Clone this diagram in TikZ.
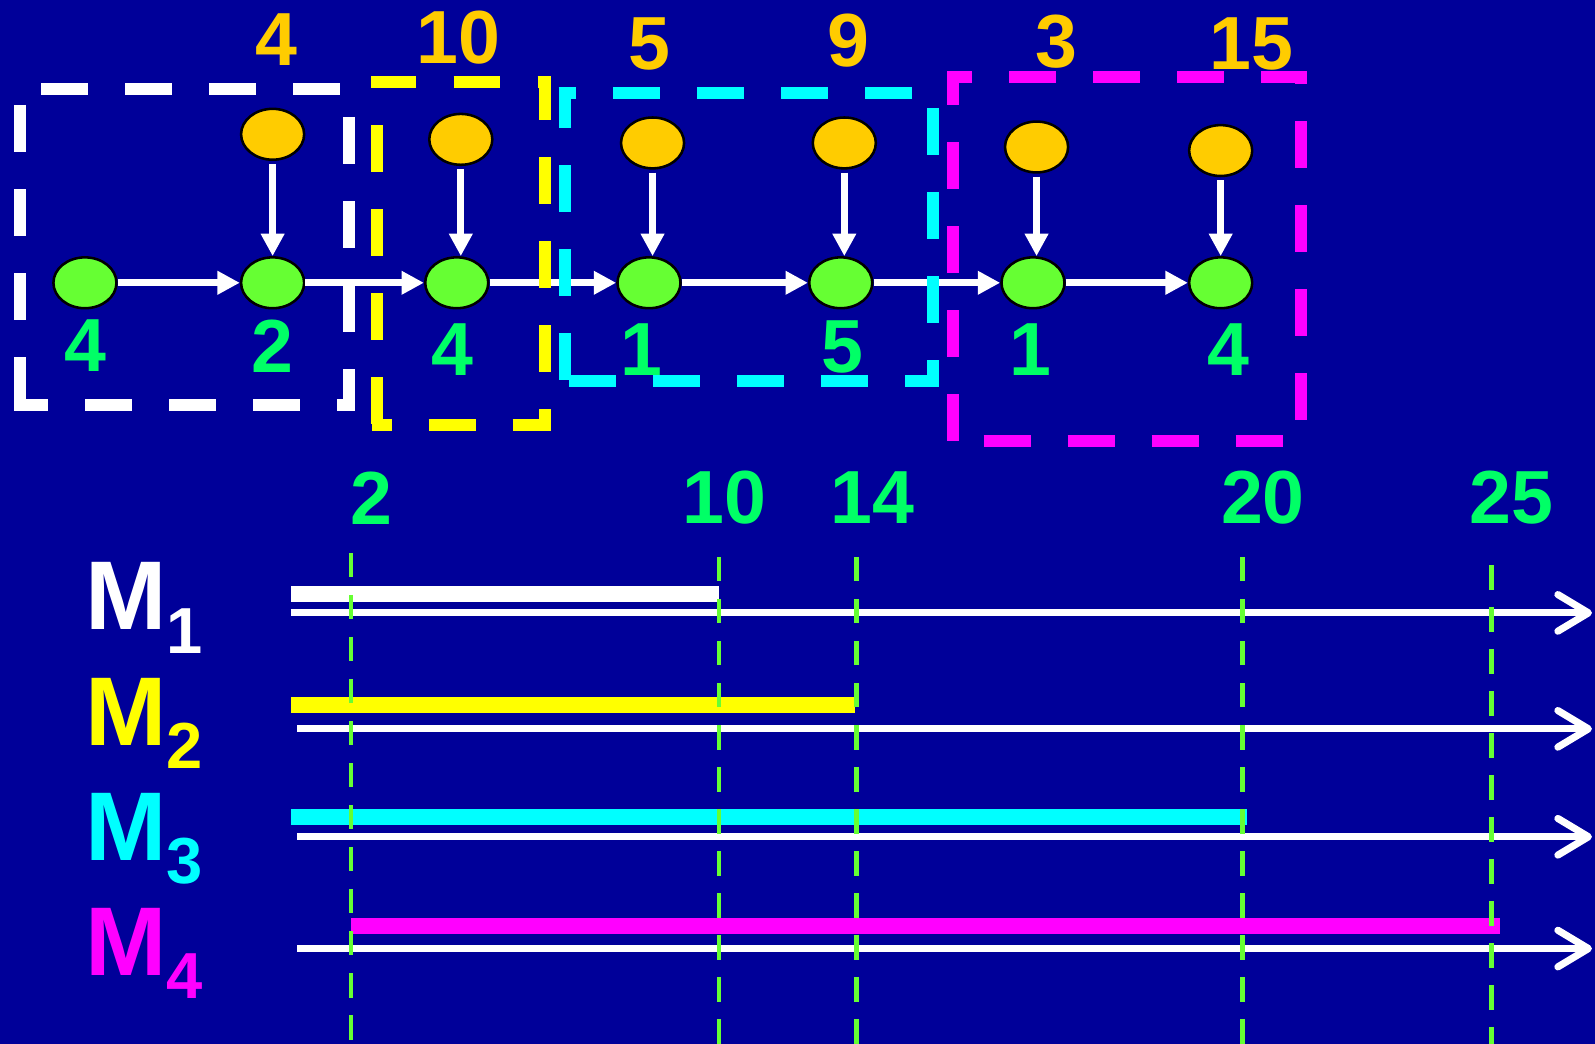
\documentclass[tikz,border=0pt]{standalone}
\usepackage{fontspec}
\setmainfont{Liberation Sans}
\usetikzlibrary{arrows.meta,shapes.geometric}
\definecolor{bg}{HTML}{000099}
\definecolor{orng}{HTML}{FFCC00}
\definecolor{gfill}{HTML}{66FF33}
\definecolor{glabel}{HTML}{00FF66}
\definecolor{mag}{HTML}{FF00FF}
\definecolor{cyn}{HTML}{00FFFF}
\definecolor{yel}{HTML}{FFFF00}
\tikzset{
  onode/.style={ellipse, draw=black, line width=2.5pt, fill=orng, minimum width=62pt, minimum height=50pt, inner sep=0pt},
  gnode/.style={ellipse, draw=black, line width=2.5pt, fill=gfill, minimum width=62pt, minimum height=50pt, inner sep=0pt},
  conn/.style={draw=white, line width=7pt, -{Triangle[length=22pt,width=22pt]}},
  olab/.style={text=orng, font=\fontsize{74}{74}\selectfont\bfseries, inner sep=0pt},
  glab/.style={text=glabel, font=\fontsize{74}{74}\selectfont\bfseries, inner sep=0pt},
  boxline/.style={line width=11.8pt, line cap=butt, dash pattern=on 46.2pt off 36.4pt},
  vdash/.style={draw=gfill, line width=4.5pt, dash pattern=on 24pt off 17.3pt},
  axis/.style={draw=white, line width=7pt, -{Straight Barb[length=30pt,width=36pt,line cap=round,line join=round]}},
  mlab/.style={anchor=base west, inner sep=0pt, font=\bfseries}
}
\begin{document}
\begin{tikzpicture}[x=1pt,y=-1pt]
\useasboundingbox (0,0) rectangle (1568,1026);
\fill[bg] (0,0) rectangle (1568,1026);

% orange nodes
\node[onode] (o1) at (268,132) {};
\node[onode] (o2) at (453,137) {};
\node[onode] (o3) at (641.5,140.5) {};
\node[onode] (o4) at (830,140.5) {};
\node[onode] (o5) at (1019,144.5) {};
\node[onode] (o6) at (1200,148) {};
% green nodes
\node[gnode] (g1) at (83.5,278) {};
\node[gnode] (g2) at (268,278) {};
\node[gnode] (g3) at (449,278) {};
\node[gnode] (g4) at (638,278) {};
\node[gnode] (g5) at (826.5,278) {};
\node[gnode] (g6) at (1015.5,278) {};
\node[gnode] (g7) at (1200,278) {};

% horizontal arrows
\draw[conn] (g1) -- (g2);
\draw[conn] (g2) -- (g3);
\draw[conn] (g3) -- (g4);
\draw[conn] (g4) -- (g5);
\draw[conn] (g5) -- (g6);
\draw[conn] (g6) -- (g7);
% vertical arrows
\draw[conn, shorten <=3pt] (o1.south) -- (o1.south |- g2.north);
\draw[conn, shorten <=3pt] (o2.south) -- (o2.south |- g3.north);
\draw[conn, shorten <=3pt] (o3.south) -- (o3.south |- g4.north);
\draw[conn, shorten <=3pt] (o4.south) -- (o4.south |- g5.north);
\draw[conn, shorten <=3pt] (o5.south) -- (o5.south |- g6.north);
\draw[conn, shorten <=3pt] (o6.south) -- (o6.south |- g7.north);

% labels above
\node[olab] (la1) at (272,39) {4};
\node[olab] (la2) at (451,37) {10};
\node[olab] (la3) at (638.5,43.6) {5};
\node[olab] (la4) at (834.5,40) {9};
\node[olab] (la5) at (1039,41) {3};
\node[olab] (la6) at (1230,43) {15};
% labels below
\node[glab] (lb1) at (83.5,340) {4};
\node[glab] (lb2) at (267.5,340) {2};
\node[glab] (lb3) at (445,344) {4};
\node[glab] (lb4) at (631,344) {1};
\node[glab] (lb5) at (828,341) {5};
\node[glab] (lb6) at (1013,343.5) {1};
\node[glab] (lb7) at (1208,343.5) {4};

% dashed boxes (each side drawn with its own dash phase)
\begin{scope}[scale=0.9831]
  % white
  \draw[boxline, white, dash phase=56pt] (14,89) -- (354.5,89);
  \draw[boxline, white, dash phase=49.2pt] (348.5,83) -- (348.5,411);
  \draw[boxline, white, dash phase=12.8pt] (14,405) -- (354.5,405);
  \draw[boxline, white, dash phase=61pt] (20,83) -- (20,411);
  % yellow
  \draw[boxline, yel, dash phase=2pt] (371.5,81.5) -- (550,81.5);
  \draw[boxline, yel, dash phase=2.9pt] (544.5,76) -- (544.5,430.5);
  \draw[boxline, yel, dash phase=26.5pt] (371.5,425) -- (550,425);
  \draw[boxline, yel, dash phase=34.4pt] (377,76) -- (377,430.5);
  % cyan
  \draw[boxline, cyn, dash phase=29pt] (558.5,93) -- (939,93);
  \draw[boxline, cyn, dash phase=62pt] (933,87) -- (933,387);
  \draw[boxline, cyn, dash phase=72.3pt] (558.5,381) -- (939,381);
  \draw[boxline, cyn, dash phase=5.9pt] (564.5,87) -- (564.5,387);
  % magenta
  \draw[boxline, mag, dash phase=21.6pt] (947,77) -- (1307,77);
  \draw[boxline, mag, dash phase=33.4pt] (1301,71) -- (1301,447);
  \draw[boxline, mag, dash phase=46.6pt] (947,441) -- (1307,441);
  \draw[boxline, mag, dash phase=12.8pt] (953,71) -- (953,447);
\end{scope}

% timeline labels
\node[glab] (t2) at (365.6,489.5) {2};
\node[glab] (t10) at (712,489.5) {10};
\node[glab] (t14) at (857.5,489.5) {14};
\node[glab] (t20) at (1241.5,489.5) {20};
\node[glab] (t25) at (1486,489.5) {25};

% machine labels
\node[mlab, text=white] (m1) at (84,619) {\fontsize{96}{96}\selectfont M\raisebox{-23pt}{\fontsize{64}{64}\selectfont 1}};
\node[mlab, text=yel] (m2) at (84,732.5) {\fontsize{96}{96}\selectfont M\raisebox{-23pt}{\fontsize{64}{64}\selectfont 2}};
\node[mlab, text=cyn] (m3) at (84,845.5) {\fontsize{96}{96}\selectfont M\raisebox{-23pt}{\fontsize{64}{64}\selectfont 3}};
\node[mlab, text=mag] (m4) at (84,958.5) {\fontsize{96}{96}\selectfont M\raisebox{-23pt}{\fontsize{64}{64}\selectfont 4}};

% gantt bars
\fill[white] (286,575.6) rectangle (707,591.4);
\fill[yel] (286,685.6) rectangle (841,701.4);
\fill[cyn] (286,795.7) rectangle (1226,811.5);
\fill[mag] (345,902) rectangle (1474.6,918);

% time axes
\coordinate (a1s) at (286,602.5); \coordinate (a1e) at (1565,602.5);
\coordinate (a2s) at (292,716.5); \coordinate (a2e) at (1565,716.5);
\coordinate (a3s) at (292,822.6); \coordinate (a3e) at (1565,822.6);
\coordinate (a4s) at (292,932.5); \coordinate (a4e) at (1565,932.5);
\draw[axis] (a1s) -- (a1e);
\draw[axis] (a2s) -- (a2e);
\draw[axis] (a3s) -- (a3e);
\draw[axis] (a4s) -- (a4e);

% dashed time markers
\draw[vdash] (345,543.6) -- (345,1030);
\draw[vdash] (707,547.6) -- (707,1030);
\draw[vdash] (842,547.6) -- (842,1030);
\draw[vdash] (1221.6,547.6) -- (1221.6,1030);
\draw[vdash] (1466.5,555.6) -- (1466.5,1030);
\end{tikzpicture}
\end{document}
